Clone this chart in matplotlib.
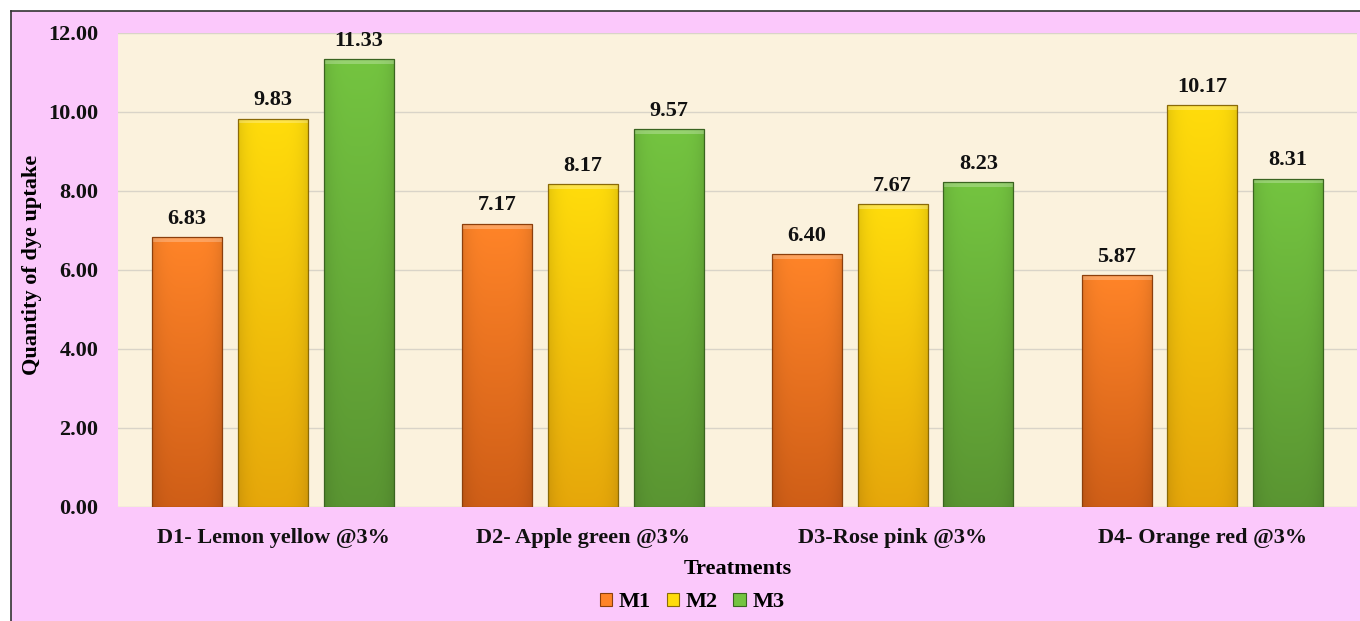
import numpy as np
import matplotlib.pyplot as plt
from matplotlib.colors import to_rgb
from matplotlib.lines import Line2D
from matplotlib.patches import Rectangle

treatments = ['D1- Lemon yellow @3%', 'D2- Apple green @3%',
              'D3-Rose pink @3%', 'D4- Orange red @3%']
series = ['M1', 'M2', 'M3']
m1 = [6.83, 7.17, 6.40, 5.87]
m2 = [9.83, 8.17, 7.67, 10.17]
m3 = [11.33, 9.57, 8.23, 8.31]
yticks = [0, 2, 4, 6, 8, 10, 12]

# (top colour, bottom colour, edge colour) for each series
shades = [('#ff8428', '#cf5e17', '#8c3f0c'),
          ('#ffdc0c', '#e6a70a', '#8a6a08'),
          ('#74c440', '#5a9532', '#3a6420')]

plt.rcParams['font.family'] = ['Liberation Serif', 'DejaVu Serif']
plt.rcParams['font.weight'] = 'bold'
FS = 16

fig = plt.figure(figsize=(13.6, 6.21), dpi=100)
fig.patch.set_facecolor('#fbc8fb')
ax = fig.add_axes([0.0868, 0.1836, 0.9112, 0.7633])
ax.set_facecolor('#fbf2dd')
for s in ax.spines.values():
    s.set_visible(False)

# white margin and thin black frame at top/left of the chart area
fig.patches.append(Rectangle((0, 1 - 11 / 621), 1, 11 / 621, transform=fig.transFigure,
                             facecolor='white', edgecolor='none', zorder=0))
fig.patches.append(Rectangle((0, 0), 11 / 1360, 1, transform=fig.transFigure,
                             facecolor='white', edgecolor='none', zorder=0))
fig.lines.append(Line2D([11 / 1360, 11 / 1360], [0, 1 - 11 / 621],
                        transform=fig.transFigure, color='#333333', lw=1.2))
fig.lines.append(Line2D([11 / 1360, 1], [1 - 11 / 621, 1 - 11 / 621],
                        transform=fig.transFigure, color='#333333', lw=1.2))

x = np.arange(len(treatments))
width = 0.226
step = 0.277


def gradient_bar(ax, xc, h, top, bottom, edge):
    top, bottom = np.array(to_rgb(top)), np.array(to_rgb(bottom))
    ny, nx = 100, 40
    t = np.linspace(0, 1, ny)[:, None, None]
    u = np.linspace(-1, 1, nx)[None, :, None]
    img = top * (1 - t) + bottom * t
    img = img * (1 - 0.10 * np.abs(u) ** 4)
    img = np.clip(img, 0, 1)
    x0 = xc - width / 2
    rect = Rectangle((x0, 0), width, h, facecolor='none', edgecolor=edge,
                     lw=0.9, zorder=3)
    ax.add_patch(rect)
    im = ax.imshow(img, extent=[x0, x0 + width, 0, h], origin='upper',
                   aspect='auto', zorder=2, interpolation='bilinear')
    im.set_clip_path(rect)
    # light bevel along the top of the bar
    ax.add_patch(Rectangle((x0, h - 0.12), width, 0.12, facecolor='white',
                           alpha=0.25, edgecolor='none', zorder=2.5))


for i, vals in enumerate([m1, m2, m3]):
    top, bottom, edge = shades[i]
    for j, v in enumerate(vals):
        xc = x[j] + (i - 1) * step
        gradient_bar(ax, xc, v, top, bottom, edge)
        ax.annotate('{:.2f}'.format(v), (xc, v), xytext=(0, 6),
                    textcoords='offset points', ha='center', va='bottom',
                    fontsize=FS, fontweight='bold', color='#111111')

ax.set_xlim(-0.5, len(treatments) - 0.5)
ax.set_ylim(0, 12)
ax.set_yticks(yticks)
ax.set_yticklabels(['{:.2f}'.format(v) for v in yticks])
ax.set_xticks(x)
ax.set_xticklabels(treatments)
ax.tick_params(axis='both', length=0, labelsize=FS, colors='#111111')
ax.tick_params(axis='y', pad=14)
ax.tick_params(axis='x', pad=15)
ax.grid(axis='y', color='#d9d4c8', lw=1)
ax.set_axisbelow(True)

ax.set_xlabel('Treatments', fontsize=FS, fontweight='bold', labelpad=8)
ax.set_ylabel('Quantity of dye uptake', fontsize=FS, fontweight='bold')
ax.yaxis.set_label_coords(-0.061, 0.51)

handles = [Rectangle((0, 0), 1, 1, facecolor=c[0], edgecolor=c[2], lw=0.8)
           for c in shades]
fig.legend(handles, series, loc='center', bbox_to_anchor=(0.509, 0.030),
           ncol=3, frameon=False, fontsize=FS, handlelength=0.55,
           handleheight=0.55, handletextpad=0.3, columnspacing=0.7)

fig.savefig('out.png', dpi=100, facecolor=fig.get_facecolor())
